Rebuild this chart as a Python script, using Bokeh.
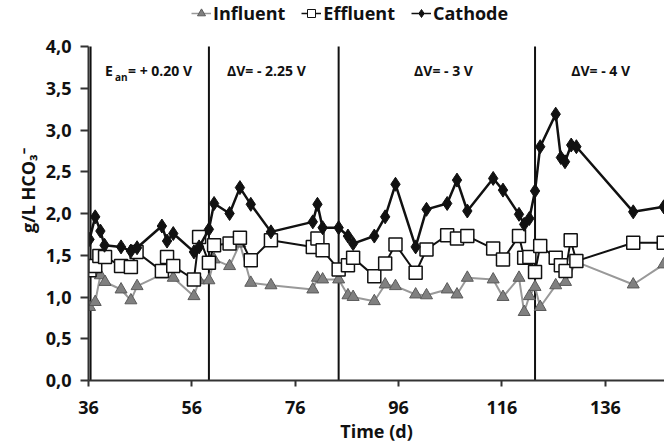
from bokeh.plotting import figure
from bokeh.models import Label, Legend, LegendItem, FixedTicker, Range1d
from bokeh.embed import file_html
from bokeh.resources import INLINE

# ---------------- data ----------------
inf_days = [36.2, 37.3, 38.3, 39.2, 42.3, 44.2, 45.4, 50.2, 52.4, 56.4, 57.4, 59.3, 60.3, 63.3,
            65.3, 67.4, 71.3, 79.4, 80.3, 81.3, 84.4, 86.2, 87.2, 91.3, 93.4, 95.4, 99.3, 101.4,
            105.4, 107.3, 109.3, 114.3, 116.2, 119.3, 120.3, 121.3, 122.4, 123.4, 126.4, 128.3,
            130.4, 141.4, 147.3]
inf_vals = [0.88, 0.94, 1.26, 1.18, 1.09, 0.96, 1.13, 1.27, 1.23, 1.01, 1.20, 1.20, 1.45, 1.37,
            1.64, 1.17, 1.14, 1.09, 1.23, 1.21, 1.21, 1.02, 1.00, 0.95, 1.15, 1.13, 1.03, 1.02,
            1.09, 1.03, 1.23, 1.21, 1.00, 1.23, 0.82, 1.01, 1.12, 0.88, 1.14, 1.18,
            1.42, 1.15, 1.39]

eff_days = [36.2, 37.3, 38.1, 39.2, 42.3, 44.2, 45.3, 50.2, 51.2, 52.4, 56.4, 57.4, 59.3, 60.3,
            63.3, 65.3, 67.4, 71.3, 79.4, 80.3, 81.3, 84.4, 86.2, 87.2, 91.3, 93.4, 95.4, 99.3,
            101.4, 105.4, 107.3, 109.3, 114.3, 116.2, 119.3, 120.3, 121.3, 122.4, 123.4, 126.4,
            127.4, 128.3, 129.3, 130.4, 141.4, 147.3]
eff_vals = [1.32, 1.37, 1.49, 1.48, 1.37, 1.36, 1.54, 1.31, 1.48, 1.37, 1.21, 1.72, 1.41, 1.62,
            1.64, 1.71, 1.44, 1.68, 1.60, 1.70, 1.56, 1.33, 1.38, 1.47, 1.25, 1.40, 1.63, 1.29,
            1.57, 1.74, 1.70, 1.73, 1.58, 1.45, 1.73, 1.47, 1.48, 1.30, 1.61, 1.47,
            1.38, 1.31, 1.68, 1.43, 1.65, 1.65]

cat_days = [36.2, 37.3, 38.3, 39.1, 42.3, 44.2, 45.4, 50.2, 51.2, 52.4, 56.4, 57.4, 59.3, 60.3,
            63.3, 65.3, 67.4, 71.3, 79.4, 80.3, 81.3, 84.4, 86.2, 87.2, 91.3, 93.4, 95.4, 99.3,
            101.4, 105.4, 107.3, 109.3, 114.3, 116.2, 119.3, 120.3, 121.3, 122.4, 123.4, 126.4,
            127.4, 128.2, 129.4, 130.4, 141.4, 147.3]
cat_vals = [1.69, 1.96, 1.79, 1.62, 1.60, 1.55, 1.59, 1.85, 1.67, 1.76, 1.54, 1.60, 1.81, 2.12,
            2.00, 2.31, 2.11, 1.78, 1.90, 2.11, 1.83, 1.83, 1.73, 1.64, 1.73, 1.96, 2.35, 1.60,
            2.05, 2.12, 2.40, 2.03, 2.42, 2.28, 1.99, 1.87, 1.94, 2.27, 2.80, 3.19,
            2.67, 2.62, 2.82, 2.80, 2.02, 2.08]

series_names = ["Influent", "Effluent", "Cathode"]
phase_days = [36.4, 59.3, 84.4, 122.4]
phase_bottom = [0.0, 0.0, 0.0, 0.0]
phase_top = [4.0, 4.0, 4.0, 4.0]
x_ticks = [36, 56, 76, 96, 116, 136]
y_ticks = [0, 0.5, 1.0, 1.5, 2.0, 2.5, 3.0, 3.5, 4.0]
y_tick_labels = ["0,0", "0,5", "1,0", "1,5", "2,0", "2,5", "3,0", "3,5", "4,0"]
legend_proxy = [float("nan")]   # non-drawn point, only to give legend swatches a data row

FONT = "Open Sans"
TXT = "#111111"

# frame reaches the top of the canvas so the legend can sit above the 4,0 line
p = figure(width=664, height=445, output_backend="svg", toolbar_location=None,
           x_range=Range1d(36, 147.45), y_range=Range1d(0, 4.551),
           min_border_left=88, min_border_right=0, min_border_top=0, min_border_bottom=65)
p.outline_line_color = None
p.grid.visible = False
p.background_fill_color = "white"

# axes
for ax in (p.xaxis[0], p.yaxis[0]):
    ax.axis_line_width = 2
    ax.axis_line_color = "#333333"
    ax.major_tick_line_color = "#333333"
    ax.major_tick_line_width = 2
    ax.minor_tick_line_color = None
    ax.major_tick_in = 0
    ax.major_label_text_font = FONT
    ax.major_label_text_font_style = "bold"
    ax.major_label_text_font_size = "18px"
    ax.major_label_text_color = TXT
    ax.axis_label_text_font = FONT
    ax.axis_label_text_font_style = "bold"
    ax.axis_label_text_font_size = "18px"
    ax.axis_label_text_color = TXT

p.xaxis.ticker = FixedTicker(ticks=x_ticks)
p.xaxis.major_tick_out = 6
p.xaxis.major_label_standoff = 14
p.xaxis.axis_label = "Time (d)"
p.xaxis.axis_label_standoff = 2

p.yaxis.ticker = FixedTicker(ticks=y_ticks)
p.yaxis.bounds = (0, 4)
p.yaxis.major_label_overrides = {t: lab for t, lab in zip(y_ticks, y_tick_labels)}
p.yaxis.major_tick_out = 8
p.yaxis.major_label_standoff = 9
p.yaxis.axis_label = "g/L HCO₃⁻"
p.yaxis.axis_label_standoff = 3

# phase boundaries
p.segment(x0=phase_days, y0=phase_bottom, x1=phase_days, y1=phase_top,
          line_color="#111111", line_width=2)

# series
p.line(inf_days, inf_vals, line_color="#999999", line_width=2)
p.scatter(inf_days, inf_vals, marker="triangle", size=12, fill_color="#808080",
          line_color="#5a5a5a", line_width=1)
p.line(eff_days, eff_vals, line_color="#111111", line_width=2)
p.scatter(eff_days, eff_vals, marker="square", size=13, fill_color="white",
          line_color="#111111", line_width=1.5)
p.line(cat_days, cat_vals, line_color="#111111", line_width=2.5)
p.scatter(cat_days, cat_vals, marker="diamond", size=14, fill_color="#111111",
          line_color="#111111")

# legend swatch renderers (their single point is NaN, so nothing is drawn in the plot)
li = p.line(legend_proxy, legend_proxy, line_color="#999999", line_width=1.5)
si = p.scatter(legend_proxy, legend_proxy, marker="triangle", size=8, fill_color="#808080",
               line_color="#5a5a5a")
le = p.line(legend_proxy, legend_proxy, line_color="#111111", line_width=1.5)
se = p.scatter(legend_proxy, legend_proxy, marker="square", size=8, fill_color="white",
               line_color="#111111")
lc = p.line(legend_proxy, legend_proxy, line_color="#111111", line_width=1.5)
sc = p.scatter(legend_proxy, legend_proxy, marker="diamond", size=10, fill_color="#111111",
               line_color="#111111")

legend = Legend(items=[LegendItem(label=series_names[0], renderers=[li, si]),
                       LegendItem(label=series_names[1], renderers=[le, se]),
                       LegendItem(label=series_names[2], renderers=[lc, sc])],
                orientation="horizontal", location=(103, 355),
                glyph_width=20, glyph_height=20, label_standoff=2, spacing=16,
                padding=0, margin=0, border_line_color=None, background_fill_alpha=0,
                label_text_font=FONT, label_text_font_style="bold",
                label_text_font_size="18px", label_text_color=TXT, label_height=20)
p.add_layout(legend, "center")

# phase annotations
def lab(x, y, text, size="14px", x_offset=0):
    p.add_layout(Label(x=x, y=y, text=text, x_offset=x_offset, text_font=FONT,
                       text_font_style="bold", text_font_size=size, text_color=TXT,
                       text_baseline="middle", text_align="left"))

lab(39.2, 3.71, "E")
lab(39.2, 3.64, "an", size="10px", x_offset=10)
lab(39.2, 3.71, " = + 0.20 V", x_offset=23)
lab(62.8, 3.71, "ΔV= - 2.25 V")
lab(99.0, 3.71, "ΔV= - 3 V")
lab(129.4, 3.71, "ΔV= - 4 V")

open("out.html", "w").write(file_html(p, INLINE))
